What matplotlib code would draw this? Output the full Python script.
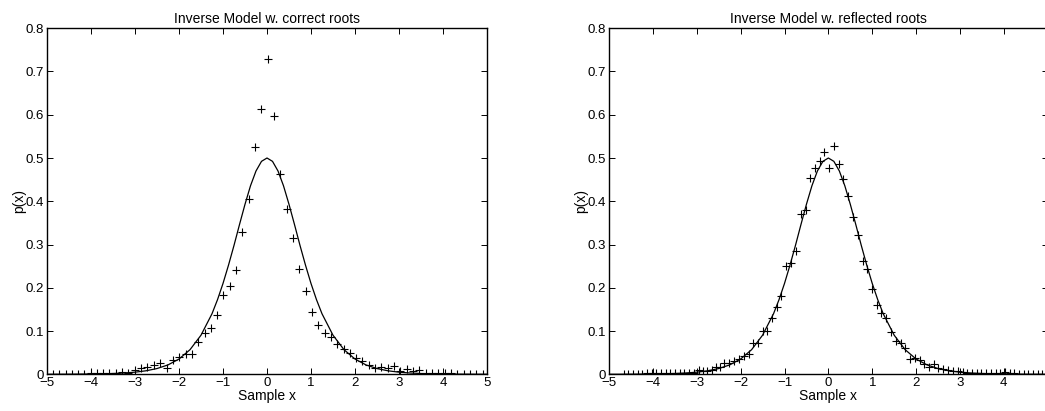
import numpy as np
import matplotlib
matplotlib.use('Agg')
import matplotlib.pyplot as plt

plt.rcParams['font.family'] = ['Liberation Sans', 'DejaVu Sans']

# model density (solid curve)
curve_x = [-5, -4.75, -4.5, -4.25, -4, -3.75, -3.5, -3.25, -3, -2.75, -2.5, -2.25, -2, -1.75,
           -1.5, -1.25, -1.125, -1, -0.875, -0.75, -0.625, -0.5, -0.375, -0.25, -0.125, 0,
           0.125, 0.25, 0.375, 0.5, 0.625, 0.75, 0.875, 1, 1.125, 1.25, 1.5, 1.75, 2, 2.25,
           2.5, 2.75, 3, 3.25, 3.5, 3.75, 4, 4.25, 4.5, 4.75, 5]
curve_y = [0.0001, 0.0001, 0.0002, 0.0004, 0.0007, 0.0011, 0.0018, 0.0030, 0.0049, 0.0081,
           0.0133, 0.0217, 0.0353, 0.0569, 0.0904, 0.140, 0.1725, 0.210, 0.2523, 0.298,
           0.3462, 0.393, 0.4358, 0.470, 0.4923, 0.500, 0.4923, 0.470, 0.4358, 0.393, 0.3462,
           0.298, 0.2523, 0.210, 0.1725, 0.140, 0.0904, 0.0569, 0.0353, 0.0217, 0.0133,
           0.0081, 0.0049, 0.0030, 0.0018, 0.0011, 0.0007, 0.0004, 0.0002, 0.0001, 0.0001]

# histogram estimate, correct roots
left_x = [-4.87, -4.73, -4.58, -4.44, -4.30, -4.15, -4.01, -3.86, -3.72, -3.58, -3.43, -3.29,
          -3.15, -3.00, -2.86, -2.72, -2.57, -2.43, -2.28, -2.14, -2.00, -1.85, -1.71, -1.57,
          -1.42, -1.28, -1.14, -0.99, -0.85, -0.70, -0.56, -0.42, -0.27, -0.13, 0.02, 0.16,
          0.30, 0.45, 0.59, 0.73, 0.88, 1.02, 1.16, 1.31, 1.45, 1.60, 1.74, 1.88, 2.03, 2.17,
          2.31, 2.46, 2.60, 2.75, 2.89, 3.03, 3.18, 3.32, 3.46, 3.61, 3.75, 3.89, 4.04, 4.18,
          4.33, 4.47, 4.62, 4.76, 4.90]
left_y = [0.000, 0.000, 0.000, 0.001, 0.001, 0.001, 0.002, 0.004, 0.004, 0.003, 0.004, 0.005,
          0.004, 0.009, 0.015, 0.017, 0.022, 0.025, 0.015, 0.033, 0.041, 0.046, 0.046, 0.075,
          0.096, 0.106, 0.138, 0.183, 0.204, 0.240, 0.329, 0.405, 0.526, 0.613, 0.728, 0.596,
          0.462, 0.382, 0.314, 0.243, 0.193, 0.145, 0.114, 0.096, 0.086, 0.069, 0.059, 0.050,
          0.037, 0.031, 0.021, 0.014, 0.017, 0.014, 0.019, 0.007, 0.012, 0.008, 0.009, 0.002,
          0.002, 0.002, 0.003, 0.002, 0.001, 0.001, 0.001, 0.001, 0.001]

# histogram estimate, reflected roots
right_x = [-4.67, -4.56, -4.46, -4.35, -4.24, -4.14, -4.03, -3.92, -3.82, -3.71, -3.60, -3.50,
           -3.39, -3.28, -3.18, -3.07, -2.96, -2.85, -2.76, -2.66, -2.57, -2.48, -2.37, -2.26,
           -2.15, -2.04, -1.93, -1.82, -1.71, -1.60, -1.49, -1.39, -1.28, -1.17, -1.07, -0.96,
           -0.85, -0.74, -0.63, -0.52, -0.41, -0.30, -0.19, -0.09, 0.02, 0.13, 0.24, 0.34,
           0.45, 0.56, 0.67, 0.78, 0.88, 0.99, 1.10, 1.21, 1.32, 1.43, 1.54, 1.65, 1.75, 1.86,
           1.97, 2.08, 2.19, 2.30, 2.40, 2.51, 2.62, 2.73, 2.84, 2.95, 3.06, 3.16, 3.27, 3.38,
           3.49, 3.60, 3.70, 3.81, 3.92, 4.02, 4.13, 4.24, 4.34, 4.45, 4.56, 4.67, 4.77, 4.88]
right_y = [0.001, 0.001, 0.001, 0.001, 0.001, 0.002, 0.003, 0.002, 0.003, 0.003, 0.002, 0.003,
           0.002, 0.002, 0.004, 0.004, 0.010, 0.008, 0.007, 0.010, 0.016, 0.018, 0.025, 0.027,
           0.031, 0.036, 0.042, 0.046, 0.073, 0.073, 0.099, 0.099, 0.129, 0.155, 0.180, 0.251,
           0.257, 0.286, 0.370, 0.380, 0.453, 0.478, 0.492, 0.513, 0.477, 0.528, 0.487, 0.452,
           0.413, 0.363, 0.322, 0.262, 0.243, 0.197, 0.160, 0.141, 0.129, 0.097, 0.078, 0.072,
           0.060, 0.035, 0.037, 0.032, 0.023, 0.018, 0.023, 0.015, 0.012, 0.010, 0.008, 0.007,
           0.005, 0.004, 0.004, 0.003, 0.003, 0.002, 0.002, 0.003, 0.002, 0.006, 0.002, 0.002,
           0.001, 0.001, 0.001, 0.001, 0.001, 0.001]

titles = ['Inverse Model w. correct roots', 'Inverse Model w. reflected roots']

fig = plt.figure(figsize=(10.45, 4.11), dpi=100)
ax1 = fig.add_axes([0.045, 0.0893, 0.421, 0.842])
ax2 = fig.add_axes([0.5828, 0.0893, 0.4198, 0.842])

for ax, hx, hy, title in [(ax1, left_x, left_y, titles[0]), (ax2, right_x, right_y, titles[1])]:
    ax.plot(hx, hy, '+', color='black', markersize=5.5, markeredgewidth=0.8)
    ax.plot(curve_x, curve_y, '-', color='black', linewidth=0.9)
    ax.set_xlim(-5, 5)
    ax.set_ylim(0, 0.8)
    ax.set_xticks(np.arange(-5, 6, 1))
    ax.set_yticks(np.arange(0, 0.81, 0.1))
    ax.set_yticklabels(['0', '0.1', '0.2', '0.3', '0.4', '0.5', '0.6', '0.7', '0.8'])
    ax.tick_params(direction='in', top=True, right=True, labelsize=9.5, length=4, width=0.7, pad=2)
    for sp in ax.spines.values():
        sp.set_linewidth(1.0)
    ax.set_title(title, fontsize=10, pad=4)
    ax.set_xlabel('Sample x', fontsize=10, labelpad=0)
    ax.set_ylabel('p(x)', fontsize=10, labelpad=0)

fig.savefig('out.png', dpi=100)
